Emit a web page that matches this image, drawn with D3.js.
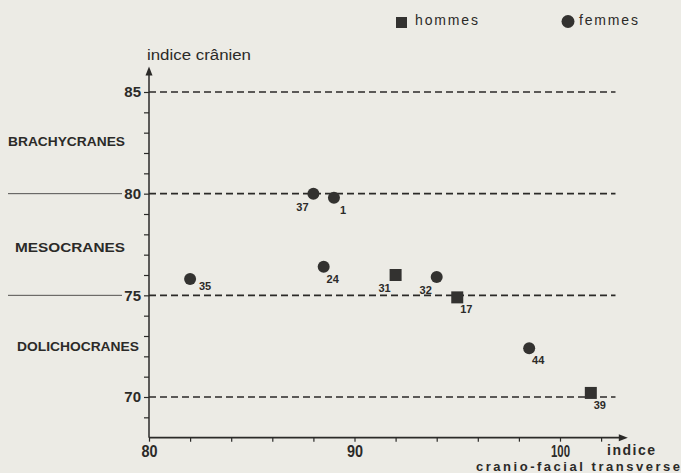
<!DOCTYPE html>
<html>
<head>
<meta charset="utf-8">
<script src="https://cdn.jsdelivr.net/npm/d3@7"></script>
<style>
  html, body { margin: 0; padding: 0; background: #ecebe5; }
  svg { display: block; font-family: "Liberation Sans", Arial, sans-serif; }
</style>
</head>
<body>
<svg id="chart" width="681" height="473"></svg>
<script>
// individus (numéro, indice cranio-facial transverse, indice crânien, sexe)
const ids     = ['37', '1', '24', '35', '31', '32', '17', '44', '39'];
const xValues = [88.0, 89.0, 88.5, 82.0, 92.0, 94.0, 95.0, 98.5, 101.5];
const yValues = [80.0, 79.8, 76.4, 75.8, 76.0, 75.9, 74.9, 72.4, 70.2];
const sexes   = ['F', 'F', 'F', 'F', 'H', 'F', 'H', 'F', 'H'];
const labelSide = ['sw', 'se', 'se', 'e', 'sw', 'sw', 'se', 'se', 'se'];

const limits = [85, 80, 75, 70];
const classes = ['BRACHYCRANES', 'MESOCRANES', 'DOLICHOCRANES'];
const classCenters = [82.6, 77.4, 72.5];
const xLabels = [80, 90, 100];

const ink = '#2b2a28';
const svg = d3.select('#chart');

const x = d3.scaleLinear().domain([80, 100]).range([149, 560]);
const y = d3.scaleLinear().domain([85, 70]).range([92, 397]);

const points = ids.map((id, i) => ({
  id, x: xValues[i], y: yValues[i], sex: sexes[i], side: labelSide[i]
}));

// lignes de séparation pointillées
svg.append('g')
  .selectAll('line')
  .data(limits)
  .join('line')
  .attr('x1', x(80))
  .attr('x2', x(102.7))
  .attr('y1', d => y(d))
  .attr('y2', d => y(d))
  .attr('stroke', ink)
  .attr('stroke-width', 1.6)
  .attr('stroke-dasharray', '7,4');

// traits fins à gauche des limites 80 et 75
svg.append('g')
  .selectAll('line')
  .data([80, 75])
  .join('line')
  .attr('x1', 8)
  .attr('x2', 122)
  .attr('y1', d => y(d))
  .attr('y2', d => y(d))
  .attr('stroke', ink)
  .attr('stroke-width', 0.8);

// axe vertical
const yAxis = svg.append('g')
  .attr('transform', `translate(${x(80)},0)`)
  .call(d3.axisLeft(y)
    .tickValues(d3.range(69, 86))
    .tickSize(5)
    .tickPadding(3)
    .tickFormat(d => limits.includes(d) ? d : ''));
yAxis.select('.domain').remove();
yAxis.selectAll('line').attr('stroke', ink).attr('stroke-width', 1.2);
yAxis.selectAll('text')
  .attr('fill', ink)
  .style('font-size', '15px')
  .style('font-weight', 'bold')
  .style('font-family', '"Liberation Sans", Arial, sans-serif');

// axe horizontal
const xAxis = svg.append('g')
  .attr('transform', `translate(0,${y(68)})`)
  .call(d3.axisBottom(x)
    .tickValues(d3.range(80, 104, 2))
    .tickSize(4)
    .tickPadding(4)
    .tickFormat(d => xLabels.includes(d) ? d : ''));
xAxis.select('.domain').remove();
xAxis.selectAll('line').attr('stroke', ink).attr('stroke-width', 1.2);
xAxis.selectAll('text')
  .attr('fill', ink)
  .attr('textLength', 16)
  .attr('lengthAdjust', 'spacingAndGlyphs')
  .style('font-size', '16px')
  .style('font-weight', 'bold')
  .style('font-family', '"Liberation Sans", Arial, sans-serif');
xAxis.selectAll('text').filter(d => d === 100)
  .attr('textLength', 19);

// lignes des axes avec flèches
svg.append('line')
  .attr('x1', x(80)).attr('x2', x(80))
  .attr('y1', y(68)).attr('y2', y(86.1))
  .attr('stroke', ink).attr('stroke-width', 1.5);
svg.append('line')
  .attr('x1', x(80)).attr('x2', x(103))
  .attr('y1', y(68)).attr('y2', y(68))
  .attr('stroke', ink).attr('stroke-width', 1.8);
svg.append('path')
  .attr('d', `M${x(80)},${y(86.25)} l-3.5,9 l7,0 z`)
  .attr('fill', ink);
svg.append('path')
  .attr('d', `M${x(103.3)},${y(68)} l-9,-3.5 l0,7 z`)
  .attr('fill', ink);

// classes crâniennes
svg.append('g')
  .selectAll('text')
  .data(classes)
  .join('text')
  .attr('x', (d, i) => i === 0 ? 8 : i === 1 ? 15 : 17)
  .attr('y', (d, i) => y(classCenters[i]) + 5)
  .attr('textLength', (d, i) => i === 0 ? 117 : i === 1 ? 110 : 122)
  .attr('lengthAdjust', 'spacingAndGlyphs')
  .attr('fill', ink)
  .style('font-size', '13px')
  .style('font-weight', 'bold')
  .text(d => d);

// titres des axes
svg.append('text')
  .attr('x', 147).attr('y', 60)
  .attr('textLength', 104).attr('lengthAdjust', 'spacingAndGlyphs')
  .attr('fill', ink)
  .style('font-size', '14px')
  .text('indice crânien');
svg.append('text')
  .attr('x', 607).attr('y', 455)
  .attr('textLength', 48).attr('lengthAdjust', 'spacing')
  .attr('fill', ink)
  .style('font-size', '14px')
  .style('font-weight', 'bold')
  .text('indice');
svg.append('text')
  .attr('x', 476).attr('y', 471)
  .attr('textLength', 204).attr('lengthAdjust', 'spacing')
  .attr('fill', ink)
  .style('font-size', '13px')
  .style('font-weight', 'bold')
  .text('cranio-facial transverse');

// points
const offsets = { sw: [-11, 17], se: [9, 16], e: [15, 11] };
const marks = svg.append('g');
marks.selectAll('rect')
  .data(points.filter(d => d.sex === 'H'))
  .join('rect')
  .attr('x', d => x(d.x) - 6)
  .attr('y', d => y(d.y) - 6)
  .attr('width', 12)
  .attr('height', 12)
  .attr('fill', '#333230');
marks.selectAll('circle')
  .data(points.filter(d => d.sex === 'F'))
  .join('circle')
  .attr('cx', d => x(d.x))
  .attr('cy', d => y(d.y))
  .attr('r', 6)
  .attr('fill', '#333230');
marks.selectAll('text')
  .data(points)
  .join('text')
  .attr('x', d => x(d.x) + offsets[d.side][0])
  .attr('y', d => y(d.y) + offsets[d.side][1])
  .attr('text-anchor', 'middle')
  .attr('fill', ink)
  .style('font-size', '11px')
  .style('font-weight', 'bold')
  .text(d => d.id);

// légende
const legend = svg.append('g');
legend.append('rect')
  .attr('x', 396).attr('y', 17).attr('width', 11).attr('height', 11)
  .attr('fill', '#333230');
legend.append('text')
  .attr('x', 415).attr('y', 25)
  .attr('textLength', 63).attr('lengthAdjust', 'spacing')
  .attr('fill', ink).style('font-size', '14px')
  .text('hommes');
legend.append('circle')
  .attr('cx', 568).attr('cy', 21.5).attr('r', 6.5)
  .attr('fill', '#333230');
legend.append('text')
  .attr('x', 579).attr('y', 25)
  .attr('textLength', 59).attr('lengthAdjust', 'spacing')
  .attr('fill', ink).style('font-size', '14px')
  .text('femmes');
</script>
</body>
</html>
